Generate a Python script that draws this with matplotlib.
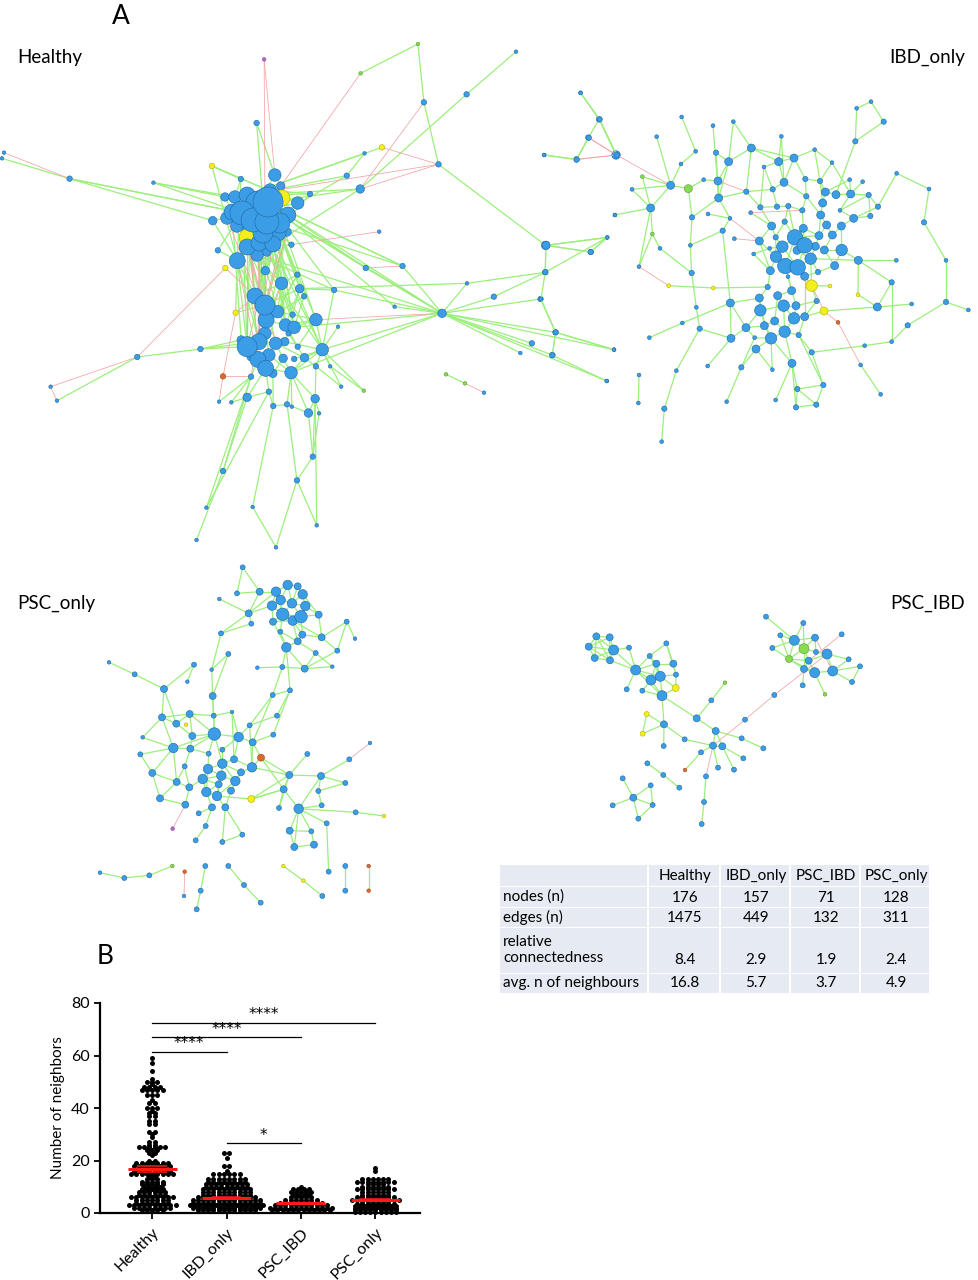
import numpy as np
import matplotlib
matplotlib.use('Agg')
import matplotlib.pyplot as plt
from matplotlib.collections import LineCollection

plt.rcParams['font.family'] = ['Lato', 'DejaVu Sans']

#------------------------------------------------------------------------
# Network layouts (in each panel's own layout units)
# size class ~ node degree, kind: b=blue, y=yellow, g=green, r=red, p=purple

# Healthy
healthy_x = [1057,1305,668,912,1180,1072,1468,1515,1488,1558,
             1458,1377,649,10,5,176,536,388,966,922,
             1109,877,911,784,1555,959,1380,1535,1494,1379,
             925,1018,1181,1249,1367,845,998,1118,1405,1345,
             1316,1397,1553,1535,1128,1176,1224,855,507,347,
             128,144,564,554,585,625,680,691,726,738,
             780,807,797,863,920,835,799,564,791,751,
             522,639,801,497,698,570,596,551,538,737,
             752,769,758,740,712,671,600,799,815,770,
             753,744,736,
             695,609,710,569,594,625,678,652,713,753,
             612,587,574,640,675,708,728,599,632,665,
             703,625,726,625,655,690,650,675,683,
             645,670,702,673,722,744,670,625,655,697,
             680,652,716,672,690,635,720,730,635,610]
healthy_y = [12,35,58,100,163,187,158,238,293,345,
             358,345,249,338,355,416,378,428,322,340,
             373,407,447,462,525,575,616,593,636,697,
             684,678,730,770,777,750,800,820,877,910,
             939,945,929,1023,1003,1030,1058,860,927,951,
             1040,1082,1009,1085,1087,1072,1055,1098,1093,1100,
             1119,1120,1076,1040,1052,979,979,1293,1250,1321,
             1403,1401,1456,1500,1522,684,818,631,542,614,
             704,769,746,824,730,692,662,839,929,953,
             920,957,998,
             405,417,438,471,471,465,486,489,474,489,
             519,516,534,540,546,549,525,558,576,579,
             579,591,576,621,609,612,645,636,450,
             768,795,815,840,855,862,880,920,905,910,
             945,958,955,985,1000,950,905,880,1010,900]
healthy_size = [1,1,1,1,2,2,1,2,2,3,
                2,1,2,1,1,2,2,1,2,1,
                2,2,3,2,1,1,3,1,2,2,
                2,2,1,2,2,2,1,3,2,2,
                1,2,1,1,1,1,1,1,2,2,
                1,1,2,1,1,3,2,2,2,1,
                3,1,3,1,1,1,2,2,2,2,
                1,1,1,1,1,2,2,2,3,2,
                2,2,3,2,4,3,5,4,4,3,
                2,2,4,
                4,2,3,3,4,5,8,7,5,4,
                7,5,4,7,7,6,5,4,5,6,
                5,5,3,5,5,5,4,3,4,
                5,6,4,5,4,4,4,6,5,4,
                4,5,3,5,3,3,3,2,2,3]
healthy_special = {0:'g', 2:'p', 3:'g', 16:'y', 18:'y', 44:'g', 45:'g', 52:'r',
                   64:'g', 75:'y', 76:'y', 101:'y', 114:'y'}
healthy_green = [(0,3),(0,5),(5,20),(1,4),(4,22),(20,26),(19,98),(19,21),(18,98),(21,98),(21,107),
    (22,98),(22,99),(22,119),(23,98),(23,119),(23,121),(6,7),(7,9),(7,8),(8,10),(11,10),
    (26,27),(26,28),(28,27),(29,27),(26,29),(29,32),(29,33),(34,38),(38,41),(38,42),
    (37,35),(37,36),(37,32),(37,33),(37,34),(37,38),(37,39),(37,40),(37,41),(37,42),(37,43),
    (37,88),(37,127),(37,92),(32,82),(30,99),(31,99),(31,37),(30,37),(36,99),(35,82),(35,99),
    (35,88),(47,88),(44,45),(14,15),(15,78),(15,103),(17,103),(17,96),(16,94),(16,102),(16,86),
    (12,120),(12,93),(48,49),(48,129),(48,130),(48,141),(49,51),(76,86),(77,86),(78,86),(78,102),
    (77,103),(67,73),(67,55),(70,56),(71,57),(71,74),(69,74),(69,72),(68,69),(68,60),(68,61),
    (68,62),(69,58),(72,62),(70,140),(67,140),(55,135),(56,135),(57,136),(58,92),(59,92),(60,62),
    (60,92),(61,62),(62,66),(62,92),(63,66),(63,88),(64,88),(64,65),(65,88),(66,88),(66,89),
    (56,57),(55,56),(57,58),(58,60),(53,140),(54,140),(54,55),
    (86,122),(85,123),(84,125),(114,122),(117,123),(115,128),(116,124),(111,129),(113,126),
    (112,127),(110,130),(99,87),(107,88),(107,126),(117,125),(118,129),(119,131),(106,132),
    (85,122),(84,124),(80,124),(81,127),(82,126),(79,113),(79,107),(80,99),(81,99),(83,99),
    (83,87),(82,99),(79,116),(84,116),(85,115),(86,114),(85,117),(80,84),(81,82),(82,83),
    (90,87),(91,88),(90,124),(89,131),(88,89),(89,92),(88,92),(87,88),(87,127),(126,87),
    (138,88),(139,89),(93,100),(94,97),(95,100),(96,97),(97,101),(98,119),(99,119),(100,106),
    (101,102),(102,103),(103,104),(105,111),(106,112),(107,113),(109,100),(110,118),(111,114),
    (112,116),(114,115),(115,117),(120,100),(121,98),(93,95),(96,104),(108,98),(110,114),
    (113,119),(116,113),(122,123),(123,124),(123,125),(125,126),(126,127),(125,128),(128,130),
    (129,130),(130,131),(131,132),(132,133),(133,137),(129,137),(132,135),(135,136),(134,136),
    (131,134),(138,131),(139,138),(124,126),(128,141),(141,129),(133,140),(135,92),(134,92),
    (132,92),(99,31),(98,30),(119,35),(99,37),(97,17),(103,15),(102,16),(122,84),(123,82),
    (125,81),(128,80),(130,86),(129,86),(124,83),(126,99),(107,127),(113,127),(119,88),
    (106,124),(112,123),(111,122),(118,122),(104,141),(103,129),(116,125),(115,123),
    (98,88),(99,126),(121,87),(95,85),(94,86),(98,37),(119,37),(107,31)]
healthy_red = [(13,15),(2,93),(2,85),(3,95),(5,22),(18,20),(20,22),(20,98),(8,9),(10,9),(45,46),
    (25,79),(50,49),(50,51),(49,75),(52,76),(52,53),(52,140),(75,122),(76,122),(76,123),
    (87,37),(31,30),(114,125),(117,130),(111,133),(116,131),(115,137),(84,128),(118,140),
    (85,128),(86,133),(117,133),(114,129),(105,125),(109,123),(112,130)]

# IBD_only
ibd_x = [122,179,146,12,110,230,350,425,519,580, 467,528,566,634,423,307,276,392,445,491,
         534,536,332,225,456,504,570,548,337,360, 202,152,18,16,3,297,386,520,451,455,
         571,469,427,479,328,47,37,222,200,297, 295,409,373,365,573,503,604,560,697,756,
         707,772,768,829,850,815,776,962,1022,974, 1055,1103,1012,1115,1055,954,870,852,894,815,
         830,955,1069,1218,1218,1285,1152,1167,1070,1014, 991,968,929,946,950,993,1031,876,824,724,
         716,762,672,619,698,732,796,840,856,888, 932,986,799,848,632,661,711,745,787,842,
         900,941,904,860,695,734,790,765,707,837, 877,658,583,727,794,771,826,853,905,689,
         641,708,812,736,773,691,744,794,834,884, 683,658,713,755,661,731,768,704,762,794,
         673,618,734,693,644,648]
ibd_y = [84,163,218,270,284,270,215,156,182,170, 259,263,290,249,297,335,373,361,371,344,
         348,399,429,450,457,447,460,497,507,550, 517,561,541,621,702,605,662,669,541,624,
         714,727,774,791,818,802,871,854,948,930, 1014,917,1031,1130,820,903,907,1010,914,895,
         1005,972,1027,1019,960,862,810,900,988,842, 830,781,726,717,652,689,663,738,772,662,
         708,586,586,586,711,735,472,372,325,425, 453,350,344,229,130,110,170,293,254,214,
         290,279,306,380,373,352,342,348,381,389, 387,390,394,414,443,427,425,423,436,450,
         436,460,483,480,483,470,490,517,517,512, 510,528,521,545,541,556,544,555,555,550,
         567,575,581,603,607,617,635,634,621,602, 666,699,692,677,736,722,722,768,760,755,
         782,788,800,820,818,852]
ibd_size = [1,2,2,1,2,2,1,1,1,1, 1,2,3,3,1,1,1,3,3,1, 3,3,3,1,2,1,1,2,1,1,
            1,2,3,2,1,1,1,1,1,2, 3,1,1,2,1,2,2,1,1,1, 1,1,2,1,3,1,2,1,1,3,
            1,2,2,2,2,2,2,1,1,1, 1,2,3,1,2,1,1,3,1,4, 2,3,1,1,2,1,2,1,1,2,
            2,1,1,2,1,1,2,1,1,1, 3,3,1,2,2,3,2,2,3,3, 3,2,2,3,1,2,2,2,2,3,
            1,3,3,3,3,2,3,5,2,3, 3,3,1,4,5,3,3,3,4,1, 1,4,4,5,5,3,1,3,2,3,
            2,3,3,3,4,4,3,3,4,3, 3,3,4,4,1,3]
ibd_special = {15:'g', 18:'g', 28:'g', 36:'y', 37:'y', 75:'y', 76:'y', 77:'y', 78:'r', 79:'y'}
ibd_green = [(0,1),(1,5),(2,4),(3,4),(6,17),(7,10),(10,14),(14,17),(8,21),(9,12),(9,13),(11,12),
    (12,13),(13,101),(13,100),(13,103),(12,21),(15,22),(15,17),(16,17),(17,18),(17,22),(18,19),
    (18,24),(19,20),(20,21),(21,26),(21,103),(22,23),(22,28),(22,16),(24,38),(25,26),(27,26),
    (27,38),(27,40),(28,29),(29,39),(30,31),(30,32),(31,32),(32,33),(33,34),(34,45),(45,46),
    (45,47),(46,48),(36,37),(37,150),(38,39),(39,41),(41,43),(40,54),(43,54),(43,51),(51,52),
    (52,53),(49,50),(54,161),(54,55),(56,165),(56,57),(58,165),(59,61),(59,62),(59,60),(61,62),
    (61,63),(61,64),(62,63),(63,64),(64,65),(65,66),(66,162),(59,163),(65,69),(69,70),(70,71),
    (71,84),(84,83),(84,85),(83,86),(86,87),(87,88),(88,89),(89,111),(90,121),(81,82),(81,142),
    (81,138),(81,74),(74,72),(72,73),(74,70),(72,75),(75,81),(77,72),(67,68),(79,76),(79,80),
    (80,156),(79,147),(79,142),(93,94),(94,95),(95,96),(93,96),(93,109),(97,98),(97,110),
    (98,101),(98,107),(99,100),(100,101),(100,102),(100,105),(101,105),(101,106),(102,104),
    (103,104),(104,105),(104,116),(105,112),(106,107),(106,112),(107,108),(107,113),(108,109),
    (108,113),(109,110),(110,111),(110,120),(111,120),(112,118),(112,119),(113,119),(114,124),
    (115,116),(115,124),(116,117),(117,118),(118,126),(119,123),(119,129),(120,121),(121,122),
    (122,130),(122,138),(123,129),(123,130),(124,128),(124,131),(125,127),(126,127),(126,134),
    (127,133),(127,134),(127,129),(128,133),(129,136),(130,137),(131,141),(133,141),(133,139),
    (134,135),(134,136),(135,142),(136,137),(137,138),(138,149),(139,140),(140,145),(141,143),
    (141,145),(142,144),(142,148),(143,144),(143,146),(144,147),(145,150),(146,153),(147,148),
    (148,149),(150,151),(151,154),(152,153),(152,155),(153,156),(154,155),(154,161),(155,156),
    (155,158),(156,158),(157,162),(157,160),(158,159),(158,162),(160,161),(160,163),(161,164),
    (162,163),(163,164),(163,165),(159,66),(162,59),(42,44),(42,40),(40,161),(35,22),(28,35),
    (90,111),(89,121),(91,110),(92,110),(92,108),(97,107),(99,105),(102,115),(103,115),(12,20),
    (11,21),(24,21),(125,117),(128,141),(131,145),(149,137),(147,159),(153,143),(80,159),
    (77,159),(40,151),(64,66),(58,163),(56,164),(127,143),(133,144),(134,144),(126,129),
    (152,157),(155,162),(151,160),(154,163),(136,142),(125,128),(117,127)]
ibd_red = [(2,5),(4,5),(5,17),(20,103),(35,36),(79,77),(77,78),(78,67),(26,131),(132,131),(114,118)]

# PSC_only
psc_only_x = [458,441,509,558,593,623,638,572,606,546, 646,578,633,608,549,686,476,484,388,571,
              637,623,589,695,770,795,742,677,644,727, 577,502,600,548,393,415,365,312,292,368,
              222,134,57,216,259,299,288,371,426,479, 561,550,307,373,446,488,158,250,301,356,
              397,151,513,432,397,354,486,284,187,338, 394,453,436,386,260,298,349,381,423,210,
              286,366,406,326,484,248,347,317,397,457, 598,581,652,778,840,693,685,766,567,626,
              695,797,882,710,599,664,613,672,716,30, 103,178,247,284,282,346,332,320,415,462,
              512,580,640,697,766,766,836,836]
psc_only_y = [22,100,95,95,75,79,103,120,130,137, 138,163,170,182,185,164,160,191,117,215,
              224,244,262,232,185,236,272,279,326,320, 321,323,391,405,220,282,329,314,365,408,
              387,343,307,472,491,462,494,467,456,496, 467,524,528,522,531,547,532,564,566,581,
              569,583,593,598,611,627,622,619,639,657, 647,637,663,673,666,682,696,708,692,715,
              734,742,742,760,717,806,798,841,846,824, 645,688,582,598,549,648,693,669,744,746,
              736,757,768,790,812,814,861,854,935,938, 954,946,918,935,1008,918,992,1048,918,975,
              1028,918,962,1008,918,992,918,992]
psc_only_size = [2,2,3,4,4,3,4,4,4,4, 4,5,5,4,3,3,3,2,1,2, 3,3,4,3,2,1,2,2,3,1,
                 2,1,2,2,2,2,1,2,1,3, 3,2,1,3,3,3,1,2,1,2, 2,2,3,5,4,3,1,4,3,2,
                 2,2,3,3,4,4,4,2,3,4, 4,3,4,3,3,3,4,4,3,3, 3,3,3,2,3,1,2,2,2,2,
                 3,3,2,2,1,3,2,2,2,4, 2,2,1,2,3,2,3,3,2,1, 2,2,1,1,1,2,2,2,2,2,
                 2,1,1,2,2,2,1,1]
psc_only_special = {46:'y', 62:'r', 84:'y', 85:'p', 102:'y', 112:'g', 113:'r', 121:'y',
                    122:'y', 126:'r', 127:'r'}
psc_only_green = [(0,1),(0,2),(1,2),(2,3),(2,16),(3,4),(3,7),(3,9),(3,11),(4,5),(4,7),(4,8),(5,6),
    (5,8),(6,8),(6,10),(7,8),(7,9),(7,11),(8,10),(8,11),(8,12),(9,11),(9,14),(10,12),(10,15),
    (11,12),(11,13),(11,14),(12,13),(12,15),(13,14),(12,20),(13,20),(13,21),(11,19),(19,22),
    (20,21),(21,22),(20,23),(22,28),(21,27),(23,24),(23,26),(24,26),(24,25),(26,28),(27,28),
    (28,29),(28,30),(30,31),(22,30),(22,32),(32,33),(16,17),(16,3),(18,16),(16,34),(17,34),
    (34,36),(35,36),(35,39),(36,39),(37,40),(38,37),(40,41),(41,42),(40,43),(39,53),(39,47),
    (32,50),(33,49),(32,51),(50,49),(51,55),(33,55),(30,33),(29,27),(14,22),(19,21),(15,23),
    (9,16),(6,15),(13,23),(43,44),(43,45),(43,57),(43,56),(44,45),(44,52),(45,47),(45,53),
    (47,53),(47,48),(48,54),(52,53),(53,54),(53,57),(53,58),(53,59),(53,64),(54,55),(54,60),
    (54,63),(55,62),(56,57),(57,58),(57,61),(57,68),(57,74),(58,59),(58,67),(59,65),(60,64),
    (61,68),(62,66),(62,90),(62,91),(63,66),(63,64),(64,65),(64,70),(64,71),(65,69),(65,70),
    (66,71),(66,49),(66,90),(67,74),(67,75),(68,79),(68,74),(69,75),(69,76),(69,73),(70,72),
    (70,73),(71,72),(72,78),(72,77),(73,76),(73,77),(74,79),(74,75),(75,80),(76,77),(76,81),
    (77,82),(77,84),(78,82),(79,80),(81,83),(81,86),(82,88),(82,89),(88,89),(86,87),
    (84,91),(84,90),(55,66),(49,54),(48,63),(52,45),(40,44),(52,58),(71,78),(90,91),(90,92),
    (90,95),(90,98),(91,99),(91,98),(93,95),(95,96),(95,97),(95,99),(96,97),(99,100),(99,101),
    (101,102),(99,103),(99,104),(99,105),(99,106),(104,105),(104,106),(105,107),(106,107),
    (103,108),(100,96),(91,84),(109,110),(110,111),(111,112),(115,116),(116,117),(118,119),
    (119,120),(121,122),(122,123),(124,125),(126,127),(69,70),(65,76),(70,77),(72,64)]
psc_only_red = [(93,94),(113,114),(85,80)]

# PSC_IBD
psc_ibd_x = [64,104,41,116,162,59,105,182,274,224, 244,295,228,256,303,302,155,202,261,215,
             203,267,266,329,365,409,450,422,414,442, 378,500,565,505,429,477,330,393,387,380,
             510,598,217,265,313,143,175,227,233,113, 190,573,685,616,658,720,592,687,723,756,
             642,701,800,821,687,719,773,855,831,683, 750]
psc_ibd_y = [124,127,155,165,158,189,196,225,145,183, 206,206,255,244,239,279,283,287,302,357,
             416,388,453,433,370,316,263,408,452,454, 472,430,460,490,518,524,525,544,621,687,
             374,300,505,540,578,550,608,571,630,631, 671,65,84,121,136,128,159,161,171,177,
             192,197,118,193,222,233,228,214,261,271, 298]
psc_ibd_size = [3,3,3,4,2,3,3,4,2,2, 3,3,4,4,2,3,2,2,4,2, 2,3,2,2,3,2,1,3,3,3,
                2,2,2,2,2,2,1,2,2,2, 2,2,2,2,2,2,3,2,2,2, 2,2,2,2,4,3,2,4,2,4,
                3,3,2,2,3,4,4,2,2,2, 1]
psc_ibd_special = {15:'y', 19:'y', 20:'y', 26:'g', 36:'r', 57:'g', 60:'g', 70:'g'}
psc_ibd_green = [(0,1),(0,2),(0,3),(0,5),(1,3),(1,2),(2,3),(2,5),(3,5),(3,6),(5,6),(1,6),(3,4),
    (4,7),(3,7),(6,7),(2,6),(0,6),(7,9),(7,10),(7,12),(7,13),(7,18),(7,16),(8,9),(8,11),(8,14),
    (9,10),(10,13),(10,11),(11,14),(12,13),(12,18),(13,18),(13,14),(14,15),(13,15),(12,17),
    (17,18),(18,15),(10,12),(9,13),(18,21),(18,24),(19,20),(19,21),(20,21),(21,22),(21,23),
    (23,28),(24,27),(24,25),(25,26),(27,28),(27,29),(28,29),(27,31),(31,32),(29,33),(29,35),
    (28,34),(28,30),(36,30),(37,38),(38,39),(42,43),(43,44),(45,46),(46,47),(46,48),(47,48),
    (46,49),(46,50),(48,50),(51,54),(52,54),(52,57),(53,54),(53,60),(54,55),(54,57),(54,60),
    (55,57),(55,58),(56,54),(56,60),(57,58),(57,61),(57,60),(57,64),(58,59),(59,61),(59,63),
    (60,61),(60,64),(61,64),(61,65),(64,65),(65,66),(66,59),(66,63),(66,67),(67,68),(66,68),
    (64,69),(65,70),(60,65)]
psc_ibd_red = [(28,40),(40,41),(41,59),(28,37),(62,61),(55,66)]

#------------------------------------------------------------------------
# Panel B data: degree values and how many nodes sit on each value
groups = ['Healthy', 'IBD_only', 'PSC_IBD', 'PSC_only']
healthy_vals = [59,57,54,51,50,49,48,47,45,43,42,40,39,38,37,35,34,31,30,29,
                27,26,25,24,23,22,20,19,18,17,16,15,
                14,13,12,11,10,9,8,7,6,5,4,3,2,1]
healthy_counts = [1,1,1,1,3,1,4,5,3,1,2,3,1,2,2,2,2,2,1,1,
                  2,2,6,3,2,1,2,7,8,5,8,9,
                  2,3,5,5,4,5,6,6,9,7,7,10,8,5]
ibd_vals = [23,21,18,16,15,13,12,11,10,9,8,7,6,5,4,3,2,1]
ibd_counts = [2,1,2,1,6,8,8,9,9,10,10,10,12,14,14,15,14,12]
psc_ibd_vals = [10,9,8,7,6,5,4,3,2,1]
psc_ibd_counts = [1,4,5,4,5,7,9,11,13,12]
psc_only_vals = [17,16,13,12,11,10,9,8,7,6,5,4,3,2,1]
psc_only_counts = [1,1,6,8,4,6,8,6,6,8,10,12,17,17,18]
group_means = [16.8, 5.7, 3.7, 4.9]
group_sems = [1.1, 0.45, 0.3, 0.35]
comparisons = [(0, 1, 61.5, '****'), (0, 2, 67.0, '****'), (0, 3, 72.4, '****'), (1, 2, 26.5, '*')]

# Table data
table_cols = ['Healthy', 'IBD_only', 'PSC_IBD', 'PSC_only']
table_rows = ['nodes (n)', 'edges (n)', 'relative\nconnectedness', 'avg. n of neighbours']
table_vals = [['176', '157', '71', '128'],
              ['1475', '449', '132', '311'],
              ['8.4', '2.9', '1.9', '2.4'],
              ['16.8', '5.7', '3.7', '4.9']]

#------------------------------------------------------------------------
W, H = 979, 1280
fig = plt.figure(figsize=(W/100, H/100), dpi=100)

def px_axes(x0, y0, w, h):
    return fig.add_axes([x0/W, 1-(y0+h)/H, w/W, h/H])

def ftext(x, y, s, **kw):
    fig.text(x/W, 1-y/H, s, **kw)

# node diameter in pixels per size class, one map per panel
diam_healthy = {1: 3.6, 2: 5.5, 3: 8.5, 4: 12.5, 5: 16.0, 6: 20.0, 7: 24.0, 8: 30.0}
diam_ibd = {1: 3.8, 2: 5.3, 3: 8.0, 4: 11.5, 5: 15.5}
diam_psc_only = {1: 3.6, 2: 5.0, 3: 7.0, 4: 9.5, 5: 12.5}
diam_psc_ibd = {1: 3.6, 2: 5.0, 3: 7.0, 4: 10.0}
node_face = {'b': '#3a9de6', 'y': '#f3ef1c', 'g': '#88da50', 'r': '#dd6a2c', 'p': '#b868d0'}
node_line = {'b': '#1f66a6', 'y': '#b5ae00', 'g': '#5a9a33', 'r': '#a04818', 'p': '#80409a'}

def draw_network(box, lims, xs, ys, sizes, special, green, red, diam):
    ax = px_axes(*box)
    ax.set_xlim(0, lims[0])
    ax.set_ylim(lims[1], 0)
    ax.axis('off')
    xs = np.array(xs, float)
    ys = np.array(ys, float)
    sizes = np.array(sizes)
    assert len(xs) == len(ys) == len(sizes)
    pts = np.column_stack([xs, ys])
    segs = [[pts[a], pts[b]] for a, b in green]
    ax.add_collection(LineCollection(segs, colors='#9cef7c', linewidths=0.9, zorder=1))
    segs = [[pts[a], pts[b]] for a, b in red]
    ax.add_collection(LineCollection(segs, colors='#f2a2a2', linewidths=0.55, zorder=1.5))
    kinds = [special.get(i, 'b') for i in range(len(xs))]
    order = np.argsort(sizes, kind='stable')
    s = [(diam[sizes[i]]*0.72)**2 for i in order]
    fc = [node_face[kinds[i]] for i in order]
    ec = [node_line[kinds[i]] for i in order]
    ax.scatter(xs[order], ys[order], s=s, c=fc, edgecolors=ec, linewidths=0.4,
               zorder=2, clip_on=False)
    return ax

draw_network((0, 40, 620, 510), (1568, 1530), healthy_x, healthy_y, healthy_size,
             healthy_special, healthy_green, healthy_red, diam_healthy)
draw_network((540, 65, 430, 380), (1290, 1140), ibd_x, ibd_y, ibd_size,
             ibd_special, ibd_green, ibd_red, diam_ibd)
draw_network((90, 560, 310, 350), (930, 1050), psc_only_x, psc_only_y, psc_only_size,
             psc_only_special, psc_only_green, psc_only_red, diam_psc_only)
draw_network((575, 595, 295, 235), (885, 705), psc_ibd_x, psc_ibd_y, psc_ibd_size,
             psc_ibd_special, psc_ibd_green, psc_ibd_red, diam_psc_ibd)

# Panel labels
ftext(121, 16, 'A', fontsize=19, ha='center', va='center')
ftext(105, 957, 'B', fontsize=19, ha='center', va='center')
ftext(17, 57, 'Healthy', fontsize=13.5, ha='left', va='center')
ftext(965, 57, 'IBD_only', fontsize=13.5, ha='right', va='center')
ftext(17, 603, 'PSC_only', fontsize=13.5, ha='left', va='center')
ftext(965, 603, 'PSC_IBD', fontsize=13.5, ha='right', va='center')

#------------------------------------------------------------------------
# Table
tax = px_axes(0, 0, W, H)
tax.set_xlim(0, W)
tax.set_ylim(H, 0)
tax.axis('off')
col_edges = [500, 649, 721, 791, 861, 931]
row_edges = [(865, 886), (887, 907), (908, 927), (928, 973), (974, 993)]
cell_color = '#e6eaf2'
for (y0, y1) in row_edges:
    for c in range(5):
        x0, x1 = col_edges[c], col_edges[c+1]
        tax.add_patch(plt.Rectangle((x0, y0), x1 - x0 - 1.5, y1 - y0, fc=cell_color, ec='none'))
tfs = 11
for c, name in enumerate(table_cols):
    xc = (col_edges[c+1] + col_edges[c+2]) / 2
    tax.text(xc, 876, name, fontsize=tfs, ha='center', va='center')
label_y = [897, 917, 950, 983]
value_y = [898, 918, 960, 983]
for r, name in enumerate(table_rows):
    tax.text(503, label_y[r], name, fontsize=tfs, ha='left', va='center', linespacing=1.15)
    for c in range(4):
        xc = (col_edges[c+1] + col_edges[c+2]) / 2
        tax.text(xc, value_y[r], table_vals[r][c], fontsize=tfs, ha='center', va='center')

#------------------------------------------------------------------------
# Panel B: dot plot of number of neighbours
ax = px_axes(100, 1003, 320, 210)
ax.set_xlim(-0.7, 3.6)
ax.set_ylim(0, 80)
all_vals = [healthy_vals, ibd_vals, psc_ibd_vals, psc_only_vals]
all_counts = [healthy_counts, ibd_counts, psc_ibd_counts, psc_only_counts]
row_caps = [10, 15, 13, 11]
spacing = 0.07
for gi in range(4):
    px, py = [], []
    for v, n in zip(all_vals[gi], all_counts[gi]):
        nsub = int(np.ceil(n / row_caps[gi]))
        chunks = np.array_split(np.arange(n), nsub)
        for k, ch in enumerate(chunks):
            m = len(ch)
            off = (np.arange(m) - (m - 1) / 2) * spacing
            yy = v + (k - (nsub - 1) / 2) * 0.9
            px.extend(gi + off)
            py.extend([yy] * m)
    ax.scatter(px, py, s=(5.0*0.72)**2, c='black', linewidths=0, zorder=3, clip_on=False)
    mu, se = group_means[gi], group_sems[gi]
    ax.hlines(mu, gi - 0.33, gi + 0.33, color='#ff1a1a', lw=2.2, zorder=4)
    ax.hlines([mu - se, mu + se], gi - 0.2, gi + 0.2, color='#ff1a1a', lw=1.1, zorder=4)

for a, b, yv, stars in comparisons:
    ax.plot([a, b], [yv, yv], color='black', lw=0.9, zorder=2, clip_on=False)
    ax.text((a + b) / 2, yv + 0.2, stars, fontsize=11, ha='center', va='bottom',
            family='DejaVu Sans')

for side in ['top', 'right']:
    ax.spines[side].set_visible(False)
for side in ['left', 'bottom']:
    ax.spines[side].set_linewidth(1.6)
ax.set_yticks([0, 20, 40, 60, 80])
ax.set_xticks(range(4))
ax.set_xticklabels(groups, rotation=45, ha='right', rotation_mode='anchor')
ax.tick_params(axis='both', labelsize=11.5, width=1.3, length=4)
ax.tick_params(axis='x', pad=5)
ax.set_ylabel('Number of neighbors', fontsize=11, labelpad=4)

fig.savefig('out.png', dpi=100)
